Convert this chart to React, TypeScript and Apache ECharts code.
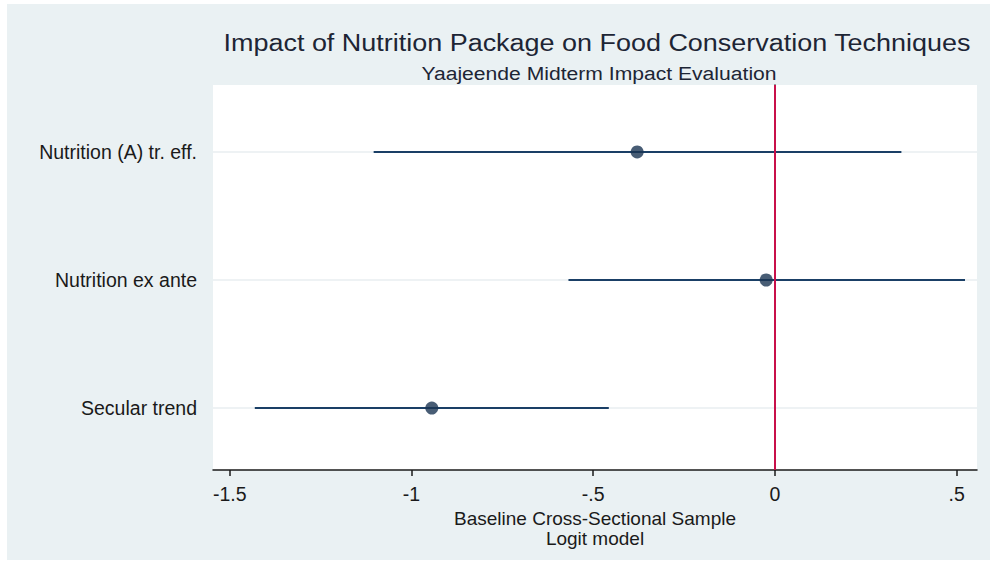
import React, { useEffect, useRef } from "react";
import * as echarts from "echarts";

const titleText = "Impact of Nutrition Package on Food Conservation Techniques";
const subtitleText = "Yaajeende Midterm Impact Evaluation";
const xAxisName = "Baseline Cross-Sectional Sample\nLogit model";

// bottom to top
const categories = ["Secular trend", "Nutrition ex ante", "Nutrition (A) tr. eff."];
const positions = [1, 2, 3];
const estimates = [-0.944, -0.024, -0.379];
const lowerCI = [-1.431, -0.568, -1.104];
const upperCI = [-0.457, 0.523, 0.348];
const xTicks = [-1.5, -1, -0.5, 0, 0.5];

const FONT = "'Liberation Sans', Arial, sans-serif";

const fmtX = (v: number) => {
  if (v === 0) return "0";
  const s = String(v);
  return s.replace(/^(-?)0\./, "$1.");
};

export default function App() {
  const ref = useRef<HTMLDivElement>(null);
  useEffect(() => {
    if (!ref.current) return;
    const chart = echarts.init(ref.current, undefined, { renderer: "svg" });
    const ciData = positions.map((p, i) => [lowerCI[i], upperCI[i], p]);
    const pointData = positions.map((p, i) => [estimates[i], p]);
    const gridData = positions.map((p) => [p]);
    const option: any = {
      animation: false,
      backgroundColor: "#EAF1F3",
      textStyle: { fontFamily: FONT },
      graphic: [
        {
          type: "text",
          x: 590,
          y: 38,
          scaleX: 1.1,
          style: {
            text: titleText,
            fontSize: 24.5,
            fontFamily: FONT,
            fill: "#1d2535",
            textAlign: "center",
            textVerticalAlign: "middle",
          },
        },
        {
          type: "text",
          x: 592,
          y: 69,
          scaleX: 1.1,
          style: {
            text: subtitleText,
            fontSize: 19.2,
            fontFamily: FONT,
            fill: "#1d2535",
            textAlign: "center",
            textVerticalAlign: "middle",
          },
        },
      ],
      grid: {
        left: 206,
        top: 81,
        right: 13,
        bottom: 90,
        show: true,
        backgroundColor: "#ffffff",
        borderWidth: 0,
      },
      xAxis: {
        type: "value",
        min: -1.546,
        max: 0.556,
        name: xAxisName,
        nameLocation: "middle",
        nameGap: 24,
        nameTextStyle: { fontSize: 19, color: "#1a1a1a", lineHeight: 20, fontFamily: FONT },
        axisLine: { show: true, lineStyle: { color: "#1a1a1a", width: 1.5 } },
        axisTick: { show: true, customValues: xTicks, length: 6, lineStyle: { color: "#1a1a1a", width: 1.5 } },
        axisLabel: {
          customValues: xTicks,
          formatter: fmtX,
          fontSize: 19.5,
          color: "#1a1a1a",
          margin: 14,
          fontFamily: FONT,
        },
        splitLine: { show: false },
      },
      yAxis: {
        type: "value",
        min: 0.516,
        max: 3.523,
        axisLine: { show: true, lineStyle: { color: "#1a1a1a", width: 1.5 } },
        axisTick: { show: true, customValues: positions, length: 7, lineStyle: { color: "#1a1a1a", width: 1.5 } },
        axisLabel: {
          customValues: positions,
          formatter: (v: number) => categories[positions.indexOf(Math.round(v))] ?? "",
          fontSize: 19.5,
          color: "#1a1a1a",
          margin: 16,
          fontFamily: FONT,
        },
        splitLine: { show: false },
      },
      series: [
        {
          type: "custom",
          z: 1,
          silent: true,
          data: gridData,
          encode: { y: 0 },
          renderItem: (params: any, api: any) => {
            const cs = params.coordSys;
            const y = api.coord([0, api.value(0)])[1];
            return {
              type: "line",
              shape: { x1: cs.x, y1: y, x2: cs.x + cs.width, y2: y },
              style: { stroke: "#eef2f4", lineWidth: 2 },
            };
          },
        },
        {
          type: "custom",
          z: 2,
          data: ciData,
          encode: { x: [0, 1], y: 2 },
          renderItem: (params: any, api: any) => {
            const p1 = api.coord([api.value(0), api.value(2)]);
            const p2 = api.coord([api.value(1), api.value(2)]);
            return {
              type: "line",
              shape: { x1: p1[0], y1: p1[1], x2: p2[0], y2: p2[1] },
              style: { stroke: "#1a3f66", lineWidth: 2 },
            };
          },
        },
        {
          type: "scatter",
          z: 3,
          data: pointData,
          symbol: "circle",
          symbolSize: 13,
          itemStyle: { color: "#1a3553" },
          markLine: {
            silent: true,
            symbol: "none",
            label: { show: false },
            lineStyle: { color: "#c8104a", width: 2, type: "solid" },
            data: [{ xAxis: 0 }],
            z: 5,
          },
        },
      ],
    };
    chart.setOption(option);
    return () => chart.dispose();
  }, []);
  return (
    <div
      ref={ref}
      style={{ position: "absolute", left: 7, top: 4, width: 983, height: 556 }}
    />
  );
}
